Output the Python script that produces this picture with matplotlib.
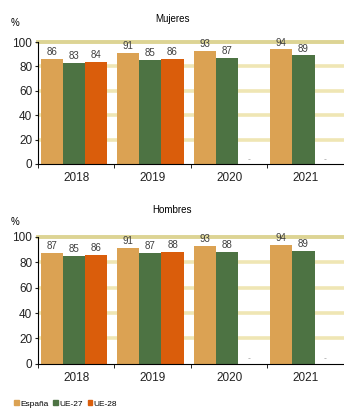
import numpy as np
import matplotlib.pyplot as plt
from matplotlib.patches import Patch

years = ['2018', '2019', '2020', '2021']
series = ['España', 'UE-27', 'UE-28']
colors = ['#dba253', '#4d7343', '#da5d0b']

mujeres = {
    'España': [86, 91, 93, 94],
    'UE-27': [83, 85, 87, 89],
    'UE-28': [84, 86, None, None],
}
hombres = {
    'España': [87, 91, 93, 94],
    'UE-27': [85, 87, 88, 89],
    'UE-28': [86, 88, None, None],
}

fig = plt.figure(figsize=(3.44, 4.12), dpi=100)
plt.rcParams['font.family'] = ['Liberation Sans', 'DejaVu Sans']

x = np.arange(len(years))
w = 0.29
offsets = [-w - 0.03, -0.03, w - 0.03]


def draw(ax, data, title, title_y):
    for yv in [20, 40, 60, 80]:
        ax.axhline(yv, color='#efe6b4', lw=2.6, zorder=0)
    ax.axhline(100, color='#ddd494', lw=2.8, zorder=0, clip_on=False)
    for name, col, off in zip(series, colors, offsets):
        vals = data[name]
        for i, v in enumerate(vals):
            if v is None:
                ax.text(x[i] + off, 2, '..', ha='center', va='bottom',
                        fontsize=5, color='#808080')
                continue
            ax.bar(x[i] + off, v, width=w, color=col, zorder=2)
            ax.text(x[i] + off, v + 1.5, str(v), ha='center', va='bottom',
                    fontsize=7, color='#404040', zorder=3)
    ax.set_xlim(-0.5, 3.5)
    ax.set_ylim(0, 100)
    ax.set_yticks([0, 20, 40, 60, 80, 100])
    ax.tick_params(axis='y', labelsize=8.5, length=2, pad=2, colors='#222222')
    ax.set_xticks(x)
    ax.set_xticklabels(years)
    ax.tick_params(axis='x', length=0, labelsize=8.5, pad=6, colors='#222222')
    ax.set_xticks([-0.5, 0.5, 1.5, 2.5], minor=True)
    ax.tick_params(axis='x', which='minor', length=3, color='black')
    for s in ['top', 'right']:
        ax.spines[s].set_visible(False)
    ax.spines['left'].set_color('black')
    ax.spines['bottom'].set_color('black')
    ax.spines['left'].set_linewidth(0.8)
    ax.spines['bottom'].set_linewidth(0.8)
    fig.text(0.5, title_y, title, ha='center', va='center', fontsize=7)


ax1 = fig.add_axes([0.110, 0.602, 0.89, 0.296])
draw(ax1, mujeres, 'Mujeres', 0.954)
fig.text(0.045, 0.945, '%', fontsize=7, ha='center', va='center')

ax2 = fig.add_axes([0.110, 0.117, 0.89, 0.308])
draw(ax2, hombres, 'Hombres', 0.49)
fig.text(0.045, 0.462, '%', fontsize=7, ha='center', va='center')

handles = [Patch(color=c, label=s) for s, c in zip(series, colors)]
fig.legend(handles=handles, loc='center left', bbox_to_anchor=(0.02, 0.019),
           ncol=3, frameon=False, fontsize=6, handlelength=0.55,
           handleheight=0.55, handletextpad=0.15, columnspacing=0.6)

fig.savefig('out.png', dpi=100)
